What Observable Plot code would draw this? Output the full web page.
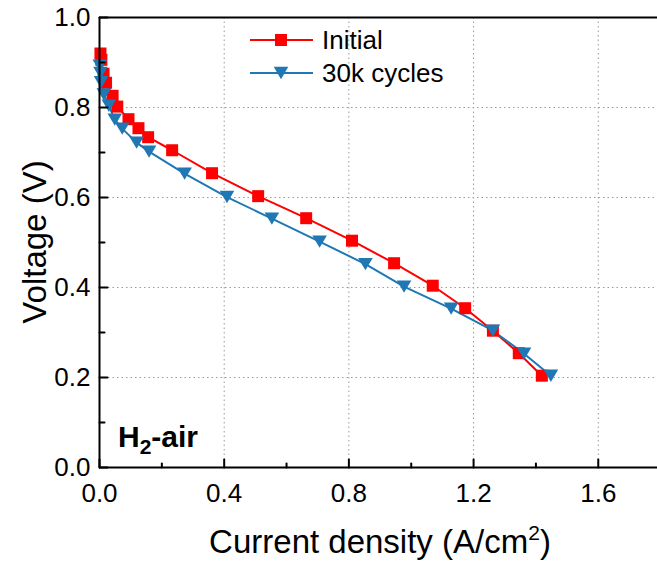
<!DOCTYPE html>
<html><head><meta charset="utf-8">
<script src="https://cdn.jsdelivr.net/npm/d3@7"></script>
<script src="https://cdn.jsdelivr.net/npm/@observablehq/plot@0.6"></script>
<style>
body{margin:0;background:#fff;}
#chart{position:relative;width:657px;height:561px;}
</style></head><body><div id="chart"></div>
<script>
// Data (current density A/cm2, voltage V)
const initialJ = [0.003, 0.006, 0.013, 0.021, 0.042, 0.057, 0.093, 0.125, 0.156, 0.233, 0.361, 0.509, 0.663, 0.810, 0.945, 1.069, 1.173, 1.262, 1.345, 1.419];
const initialV = [0.920, 0.906, 0.875, 0.855, 0.826, 0.802, 0.774, 0.754, 0.734, 0.705, 0.654, 0.603, 0.554, 0.504, 0.454, 0.404, 0.354, 0.304, 0.254, 0.204];
const cycledJ = [0.001, 0.003, 0.005, 0.014, 0.030, 0.049, 0.073, 0.119, 0.159, 0.273, 0.409, 0.553, 0.706, 0.853, 0.977, 1.128, 1.262, 1.362, 1.448];
const cycledV = [0.893, 0.877, 0.856, 0.829, 0.804, 0.773, 0.753, 0.722, 0.702, 0.653, 0.601, 0.553, 0.502, 0.452, 0.402, 0.353, 0.304, 0.253, 0.204];
const seriesNames = ["Initial", "30k cycles"];
const xMajorTicks = [0, 0.4, 0.8, 1.2, 1.6];
const xMinorTicks = [0.2, 0.6, 1.0, 1.4];
const yMajorTicks = [0, 0.2, 0.4, 0.6, 0.8, 1.0];
const yMinorTicks = [0.1, 0.3, 0.5, 0.7, 0.9];
const xGridTicks = [0.4, 0.8, 1.2, 1.6];
const yGridTicks = [0.2, 0.4, 0.6, 0.8];
const xLabel = "Current density (A/cm";
const yLabel = "Voltage (V)";

const colors = ["#ff0000", "#1f77b4"];
const FONT = "'Liberation Sans', Arial, sans-serif";

const initialRows = initialJ.map((j, i) => ({series: seriesNames[0], j, v: initialV[i]}));
const cycledRows = cycledJ.map((j, i) => ({series: seriesNames[1], j, v: cycledV[i]}));

const triDown = {draw(ctx, size) {
  const r = Math.sqrt(size / Math.PI);
  ctx.moveTo(-r, -0.85 * r); ctx.lineTo(r, -0.85 * r); ctx.lineTo(0, 0.85 * r); ctx.closePath();
}};
const sq = {draw(ctx, size) {
  const r = Math.sqrt(size / Math.PI);
  ctx.rect(-r, -r, 2 * r, 2 * r);
}};
const tickShape = {draw(ctx, l) { ctx.moveTo(0, 0); ctx.lineTo(0, -l); }};
const SQ_R = 6, TRI_R = 7.3;

const plot = Plot.plot({
  width: 657, height: 561,
  marginLeft: 99, marginRight: 0, marginTop: 17, marginBottom: 94,
  style: {fontFamily: FONT, fontSize: "26px", color: "#000", background: "#fff"},
  x: {domain: [0, 1.79], label: null},
  y: {domain: [0, 1.0], label: null},
  marks: [
    Plot.ruleX(xGridTicks, {stroke: "#9a9a9a", strokeWidth: 1, strokeDasharray: "1.5,3"}),
    Plot.ruleY(yGridTicks, {stroke: "#9a9a9a", strokeWidth: 1, strokeDasharray: "1.5,3"}),
    Plot.line(initialRows, {x: "j", y: "v", stroke: colors[0], strokeWidth: 2}),
    Plot.line(cycledRows, {x: "j", y: "v", stroke: colors[1], strokeWidth: 2}),
    Plot.dot(initialRows, {x: "j", y: "v", symbol: sq, r: SQ_R, fill: colors[0], stroke: "none"}),
    Plot.dot(cycledRows, {x: "j", y: "v", symbol: triDown, r: TRI_R, fill: colors[1], stroke: "none"}),
    Plot.ruleX([0], {stroke: "#000", strokeWidth: 2}),
    Plot.ruleY([0], {stroke: "#000", strokeWidth: 2}),
    Plot.ruleY([1.0], {stroke: "#000", strokeWidth: 2}),
    Plot.vector(xMajorTicks, {x: d => d, y: 0, length: 8, rotate: 0, anchor: "start", shape: tickShape, stroke: "#000", strokeWidth: 2}),
    Plot.vector(xMinorTicks, {x: d => d, y: 0, length: 4, rotate: 0, anchor: "start", shape: tickShape, stroke: "#000", strokeWidth: 2}),
    Plot.vector(yMajorTicks, {x: 0, y: d => d, length: 8, rotate: 90, anchor: "start", shape: tickShape, stroke: "#000", strokeWidth: 2}),
    Plot.vector(yMinorTicks, {x: 0, y: d => d, length: 5, rotate: 90, anchor: "start", shape: tickShape, stroke: "#000", strokeWidth: 2}),
    Plot.axisX(xMajorTicks, {tickSize: 0, tickPadding: 16, fontSize: 26, tickFormat: d3.format(".1f"), label: null}),
    Plot.axisY(yMajorTicks, {tickSize: 0, tickPadding: 9, fontSize: 26, tickFormat: d3.format(".1f"), label: null})
  ]
});
document.getElementById("chart").appendChild(plot);

const svg = d3.select(plot);
// Axis titles
svg.append("text")
  .attr("transform", "translate(46,242) rotate(-90)")
  .attr("text-anchor", "middle")
  .attr("font-family", FONT).attr("font-size", 33).attr("fill", "#000")
  .text(yLabel);
const xt = svg.append("text")
  .attr("x", 380).attr("y", 553)
  .attr("text-anchor", "middle")
  .attr("font-family", FONT).attr("font-size", 33).attr("fill", "#000");
xt.append("tspan").text(xLabel);
xt.append("tspan").attr("dy", -13).attr("font-size", 21).text("2");
xt.append("tspan").attr("dy", 13).text(")");

// H2-air annotation
const ha = svg.append("text")
  .attr("x", 118).attr("y", 447).attr("text-anchor", "start")
  .attr("font-family", FONT).attr("font-size", 30).attr("font-weight", "bold").attr("fill", "#000");
ha.append("tspan").text("H");
ha.append("tspan").attr("dy", 7).attr("font-size", 21).text("2");
ha.append("tspan").attr("dy", -7).text("-air");

// Legend
const legendRows = [
  {name: seriesNames[0], color: colors[0], sym: sq, r: SQ_R, y: 40},
  {name: seriesNames[1], color: colors[1], sym: triDown, r: TRI_R, y: 73}
];
const lg = svg.append("g");
legendRows.forEach(d => {
  lg.append("line").attr("x1", 250).attr("x2", 313).attr("y1", d.y).attr("y2", d.y)
    .attr("stroke", d.color).attr("stroke-width", 2);
  lg.append("path").attr("transform", `translate(281,${d.y})`)
    .attr("d", d3.symbol(d.sym, Math.PI * d.r * d.r)()).attr("fill", d.color);
  lg.append("text").attr("x", 322).attr("y", d.y + 9).attr("text-anchor", "start")
    .attr("font-family", FONT).attr("font-size", 26).attr("fill", "#000").text(d.name);
});
</script></body></html>
